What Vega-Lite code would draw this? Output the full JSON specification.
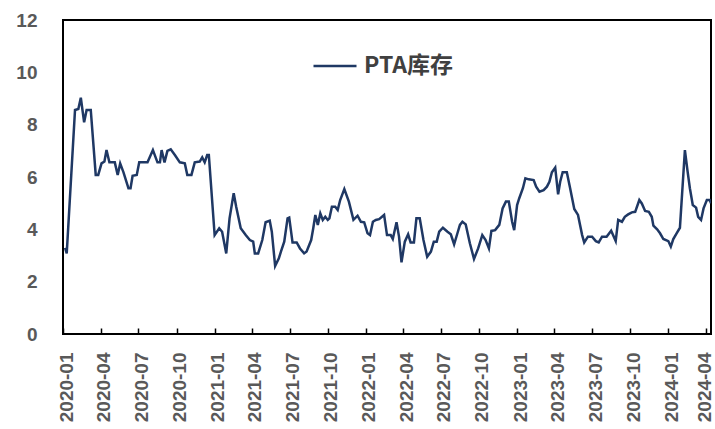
{
  "$schema": "https://vega.github.io/schema/vega-lite/v6.json",
  "autosize": {"type": "none"},
  "padding": {"left": 63, "top": 20, "right": 4, "bottom": 95},
  "width": 648,
  "height": 314,
  "background": "#ffffff",
  "config": {
    "view": {"stroke": "#000000", "strokeWidth": 2},
    "axis": {"grid": false, "domain": false, "labelColor": "#595959", "labelFont": "Liberation Sans", "labelFontWeight": "bold"}
  },
  "data": {"values": [
    {"d":"2020-01-06","v":3.29},{"d":"2020-01-10","v":3.08},{"d":"2020-01-30","v":8.56},{"d":"2020-02-07","v":8.6},{"d":"2020-02-13","v":9.03},{"d":"2020-02-21","v":8.09},{"d":"2020-02-27","v":8.56},{"d":"2020-03-08","v":8.56},{"d":"2020-03-20","v":6.08},{"d":"2020-03-26","v":6.08},{"d":"2020-04-03","v":6.52},{"d":"2020-04-10","v":6.59},{"d":"2020-04-15","v":7.03},{"d":"2020-04-22","v":6.56},{"d":"2020-05-05","v":6.56},{"d":"2020-05-12","v":6.08},{"d":"2020-05-18","v":6.52},{"d":"2020-05-26","v":6.18},{"d":"2020-06-07","v":5.57},{"d":"2020-06-12","v":5.57},{"d":"2020-06-17","v":6.05},{"d":"2020-06-27","v":6.08},{"d":"2020-07-03","v":6.56},{"d":"2020-07-23","v":6.56},{"d":"2020-08-05","v":7.03},{"d":"2020-08-16","v":6.56},{"d":"2020-08-22","v":6.56},{"d":"2020-08-26","v":7.03},{"d":"2020-09-02","v":6.56},{"d":"2020-09-09","v":7.0},{"d":"2020-09-17","v":7.06},{"d":"2020-09-27","v":6.84},{"d":"2020-10-09","v":6.56},{"d":"2020-10-21","v":6.52},{"d":"2020-10-27","v":6.08},{"d":"2020-11-06","v":6.08},{"d":"2020-11-14","v":6.56},{"d":"2020-11-26","v":6.59},{"d":"2020-12-02","v":6.75},{"d":"2020-12-08","v":6.56},{"d":"2020-12-14","v":6.84},{"d":"2020-12-18","v":6.84},
    {"d":"2021-01-01","v":3.78},{"d":"2021-01-12","v":4.04},{"d":"2021-01-19","v":3.91},{"d":"2021-01-29","v":3.08},{"d":"2021-02-06","v":4.42},{"d":"2021-02-16","v":5.38},{"d":"2021-02-22","v":4.86},{"d":"2021-03-05","v":4.04},{"d":"2021-03-17","v":3.78},{"d":"2021-03-27","v":3.59},{"d":"2021-04-04","v":3.53},{"d":"2021-04-08","v":3.08},{"d":"2021-04-16","v":3.08},{"d":"2021-04-26","v":3.59},{"d":"2021-05-04","v":4.27},{"d":"2021-05-14","v":4.33},{"d":"2021-05-19","v":3.91},{"d":"2021-05-27","v":2.6},{"d":"2021-06-05","v":2.89},{"d":"2021-06-10","v":3.15},{"d":"2021-06-18","v":3.53},{"d":"2021-06-26","v":4.42},{"d":"2021-06-30","v":4.45},{"d":"2021-07-08","v":3.5},{"d":"2021-07-18","v":3.5},{"d":"2021-07-26","v":3.27},{"d":"2021-08-05","v":3.08},{"d":"2021-08-11","v":3.15},{"d":"2021-08-22","v":3.59},{"d":"2021-08-27","v":4.04},{"d":"2021-09-01","v":4.55},{"d":"2021-09-07","v":4.17},{"d":"2021-09-13","v":4.61},{"d":"2021-09-19","v":4.36},{"d":"2021-09-25","v":4.48},{"d":"2021-10-01","v":4.36},{"d":"2021-10-05","v":4.42},{"d":"2021-10-11","v":4.86},{"d":"2021-10-19","v":4.86},{"d":"2021-10-25","v":4.74},{"d":"2021-10-31","v":5.12},{"d":"2021-11-10","v":5.54},{"d":"2021-11-21","v":5.06},{"d":"2021-12-02","v":4.36},{"d":"2021-12-12","v":4.52},{"d":"2021-12-20","v":4.29},{"d":"2021-12-28","v":4.27},
    {"d":"2022-01-05","v":3.85},{"d":"2022-01-11","v":3.78},{"d":"2022-01-18","v":4.29},{"d":"2022-01-25","v":4.36},{"d":"2022-02-02","v":4.39},{"d":"2022-02-14","v":4.55},{"d":"2022-02-21","v":3.78},{"d":"2022-03-02","v":3.78},{"d":"2022-03-07","v":3.63},{"d":"2022-03-16","v":4.27},{"d":"2022-03-22","v":3.72},{"d":"2022-03-28","v":2.74},{"d":"2022-04-05","v":3.53},{"d":"2022-04-13","v":3.81},{"d":"2022-04-19","v":3.5},{"d":"2022-04-27","v":3.5},{"d":"2022-05-03","v":4.42},{"d":"2022-05-11","v":4.42},{"d":"2022-05-20","v":3.59},{"d":"2022-05-29","v":2.95},{"d":"2022-06-07","v":3.15},{"d":"2022-06-14","v":3.53},{"d":"2022-06-21","v":3.53},{"d":"2022-06-27","v":3.91},{"d":"2022-07-06","v":4.06},{"d":"2022-07-17","v":3.91},{"d":"2022-07-25","v":3.81},{"d":"2022-08-02","v":3.43},{"d":"2022-08-10","v":3.85},{"d":"2022-08-16","v":4.17},{"d":"2022-08-22","v":4.29},{"d":"2022-08-30","v":4.19},{"d":"2022-09-09","v":3.47},{"d":"2022-09-19","v":2.87},{"d":"2022-09-29","v":3.27},{"d":"2022-10-09","v":3.78},{"d":"2022-10-17","v":3.59},{"d":"2022-10-25","v":3.27},{"d":"2022-10-31","v":3.94},{"d":"2022-11-09","v":3.97},{"d":"2022-11-19","v":4.17},{"d":"2022-11-27","v":4.8},{"d":"2022-12-05","v":5.06},{"d":"2022-12-12","v":5.06},{"d":"2022-12-20","v":4.29},{"d":"2022-12-25","v":3.97},
    {"d":"2023-01-01","v":4.93},{"d":"2023-01-06","v":5.18},{"d":"2023-01-15","v":5.57},{"d":"2023-01-21","v":5.95},{"d":"2023-01-29","v":5.91},{"d":"2023-02-10","v":5.88},{"d":"2023-02-16","v":5.63},{"d":"2023-02-24","v":5.44},{"d":"2023-03-06","v":5.5},{"d":"2023-03-14","v":5.63},{"d":"2023-03-20","v":5.82},{"d":"2023-03-26","v":6.18},{"d":"2023-04-03","v":6.36},{"d":"2023-04-10","v":5.34},{"d":"2023-04-15","v":5.82},{"d":"2023-04-21","v":6.18},{"d":"2023-05-01","v":6.18},{"d":"2023-05-09","v":5.57},{"d":"2023-05-19","v":4.78},{"d":"2023-05-28","v":4.55},{"d":"2023-06-07","v":3.78},{"d":"2023-06-12","v":3.5},{"d":"2023-06-21","v":3.72},{"d":"2023-07-01","v":3.72},{"d":"2023-07-10","v":3.55},{"d":"2023-07-17","v":3.5},{"d":"2023-07-25","v":3.72},{"d":"2023-08-05","v":3.72},{"d":"2023-08-16","v":3.95},{"d":"2023-08-27","v":3.55},{"d":"2023-09-02","v":4.36},{"d":"2023-09-11","v":4.29},{"d":"2023-09-18","v":4.48},{"d":"2023-09-26","v":4.57},{"d":"2023-10-05","v":4.65},{"d":"2023-10-13","v":4.67},{"d":"2023-10-23","v":5.12},{"d":"2023-10-29","v":4.99},{"d":"2023-11-06","v":4.7},{"d":"2023-11-15","v":4.67},{"d":"2023-11-22","v":4.48},{"d":"2023-11-26","v":4.14},{"d":"2023-12-05","v":4.0},{"d":"2023-12-12","v":3.85},{"d":"2023-12-20","v":3.63},
    {"d":"2024-01-01","v":3.55},{"d":"2024-01-07","v":3.34},{"d":"2024-01-13","v":3.63},{"d":"2024-01-21","v":3.85},{"d":"2024-01-29","v":4.06},{"d":"2024-02-10","v":7.03},{"d":"2024-02-16","v":6.27},{"d":"2024-02-22","v":5.57},{"d":"2024-02-29","v":4.93},{"d":"2024-03-08","v":4.83},{"d":"2024-03-13","v":4.48},{"d":"2024-03-20","v":4.36},{"d":"2024-03-26","v":4.8},{"d":"2024-04-03","v":5.12},{"d":"2024-04-10","v":5.12},{"d":"2024-04-13","v":5.0}
  ]},
  "mark": {"type": "line", "strokeWidth": 2.5, "clip": true},
  "encoding": {
    "x": {
      "field": "d", "type": "temporal",
      "scale": {"type": "utc", "domain": [{"year": 2020, "month": 1, "date": 1, "utc": true}, {"year": 2024, "month": 4, "date": 13, "utc": true}]},
      "axis": {
        "title": null, "format": "%Y-%m", "labelAngle": -90, "labelFontSize": 19,
        "labelOffset": {"condition": {"test": "datum.value > utc(2024, 1, 1)", "value": -2}, "value": 3},
        "tickColor": "#000000", "tickSize": -6, "tickWidth": 1.5, "labelPadding": 24, "labelOverlap": false, "labelBound": false, "labelFlush": false,
        "values": [
          {"year": 2020, "month": 1, "date": 1, "utc": true},{"year": 2020, "month": 4, "date": 1, "utc": true},{"year": 2020, "month": 7, "date": 1, "utc": true},{"year": 2020, "month": 10, "date": 1, "utc": true},
          {"year": 2021, "month": 1, "date": 1, "utc": true},{"year": 2021, "month": 4, "date": 1, "utc": true},{"year": 2021, "month": 7, "date": 1, "utc": true},{"year": 2021, "month": 10, "date": 1, "utc": true},
          {"year": 2022, "month": 1, "date": 1, "utc": true},{"year": 2022, "month": 4, "date": 1, "utc": true},{"year": 2022, "month": 7, "date": 1, "utc": true},{"year": 2022, "month": 10, "date": 1, "utc": true},
          {"year": 2023, "month": 1, "date": 1, "utc": true},{"year": 2023, "month": 4, "date": 1, "utc": true},{"year": 2023, "month": 7, "date": 1, "utc": true},{"year": 2023, "month": 10, "date": 1, "utc": true},
          {"year": 2024, "month": 1, "date": 1, "utc": true},{"year": 2024, "month": 4, "date": 1, "utc": true}
        ]
      }
    },
    "y": {
      "field": "v", "type": "quantitative",
      "scale": {"domain": [0, 12], "nice": false, "zero": true},
      "axis": {"title": null, "values": [0, 2, 4, 6, 8, 10, 12], "ticks": false, "labelFontSize": 19, "labelPadding": 26, "labelFlush": false, "labelBound": false, "labelOverlap": false}
    },
    "color": {
      "datum": "PTA库存", "type": "nominal",
      "scale": {"range": ["#1f3864"]},
      "legend": {
        "title": null, "orient": "none", "legendX": 249, "legendY": 23,
        "symbolType": "stroke", "symbolSize": 1850, "symbolStrokeWidth": 2.5,
        "labelFont": "Noto Sans CJK SC", "labelFontSize": 23, "labelFontWeight": "bold", "labelColor": "#404040", "labelOffset": 6
      }
    }
  }
}
